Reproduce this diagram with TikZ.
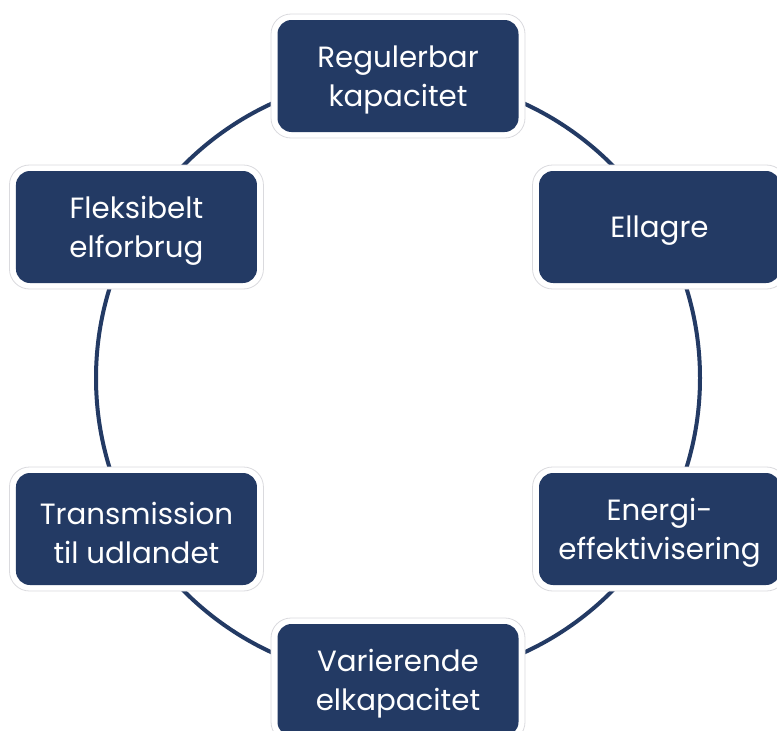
\documentclass[tikz,border=0pt]{standalone}
\usepackage{fontspec}
\setmainfont{Poppins}
\usetikzlibrary{calc}
\definecolor{navy}{RGB}{35,58,100}
\definecolor{rim}{RGB}{218,218,222}
\begin{document}
\begin{tikzpicture}[x=1pt,y=-1pt,
  ring/.style={draw=navy,line width=4pt},
  pad/.style={draw=rim,line width=0.8pt,fill=white,rounded corners=20pt,
    minimum width=254pt,minimum height=124pt,inner sep=0pt},
  topic/.style={fill=navy,rounded corners=14pt,
    minimum width=241pt,minimum height=112pt,inner sep=0pt},
  caption/.style={text=white,align=center,inner sep=0pt,yshift=-4pt,
    font=\fontsize{29.3}{39}\selectfont}]
\useasboundingbox (0,0) rectangle (777,731);
\coordinate (c) at (398,378);
\draw[ring] (c) circle (302pt);
% six topics placed round the ring, every 60 degrees
\foreach \a/\n/\t in {90/reg/{Regulerbar\\kapacitet},30/lag/{Ellagre},
    -30/eff/{Energi-\\effektivisering},-90/var/{Varierende\\elkapacitet},
    -150/tra/{Transmission\\til udlandet},150/fle/{Fleksibelt\\elforbrug}}{
  \node[pad] (p\n) at ($(c)+(\a:302pt)$) {};
  \node[topic] (\n) at (p\n) {};
  \node[caption] (t\n) at (\n) {\t};
}
\end{tikzpicture}
\end{document}
